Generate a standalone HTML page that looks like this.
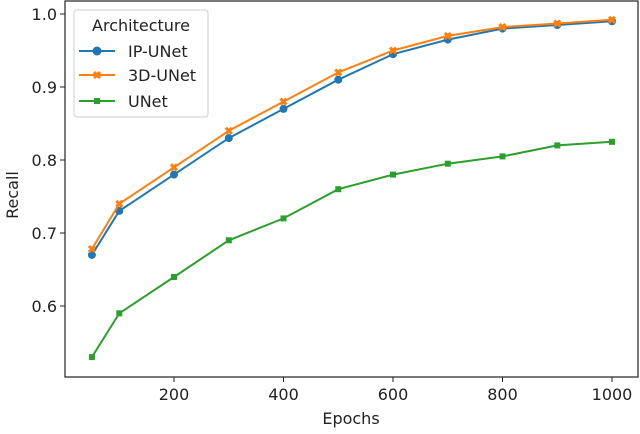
<!DOCTYPE html><html><head><style>body{margin:0;background:#fff}svg text{font-family:"DejaVu Sans","Liberation Sans",sans-serif;fill:#222}</style></head><body>
<svg width="640" height="429" xmlns="http://www.w3.org/2000/svg">
<rect x="65" y="1" width="573" height="376" fill="none" stroke="#222" stroke-width="1.2"/>
<g font-size="16" text-anchor="end">
<text x="57" y="20">1.0</text><text x="57" y="93">0.9</text><text x="57" y="166">0.8</text><text x="57" y="239">0.7</text><text x="57" y="312">0.6</text></g>
<g stroke="#222"><line x1="60" x2="65" y1="14" y2="14"/><line x1="60" x2="65" y1="87" y2="87"/><line x1="60" x2="65" y1="160" y2="160"/><line x1="60" x2="65" y1="233" y2="233"/><line x1="60" x2="65" y1="306" y2="306"/>
<line y1="377" y2="382" x1="174" x2="174"/><line y1="377" y2="382" x1="283.5" x2="283.5"/><line y1="377" y2="382" x1="393" x2="393"/><line y1="377" y2="382" x1="502.5" x2="502.5"/><line y1="377" y2="382" x1="612" x2="612"/></g>
<g font-size="16" text-anchor="middle"><text x="174" y="400">200</text><text x="283.5" y="400">400</text><text x="393" y="400">600</text><text x="502.5" y="400">800</text><text x="612" y="400">1000</text>
<text x="351" y="424">Epochs</text><text transform="translate(18,195) rotate(-90)">Recall</text></g>
<polyline fill="none" stroke="#1f77b4" stroke-width="2" points="91.9,254.9 119.3,210.9 174,174.6 228.8,138.1 283.5,108.9 338.3,79.7 393,54.2 447.8,39.6 502.5,28.6 557.3,25 612,21.3"/>
<g fill="#1f77b4"><circle cx="91.9" cy="254.9" r="4"/><circle cx="119.3" cy="210.9" r="4"/><circle cx="174" cy="174.6" r="4"/><circle cx="228.8" cy="138.1" r="4"/><circle cx="283.5" cy="108.9" r="4"/><circle cx="338.3" cy="79.7" r="4"/><circle cx="393" cy="54.2" r="4"/><circle cx="447.8" cy="39.6" r="4"/><circle cx="502.5" cy="28.6" r="4"/><circle cx="557.3" cy="25" r="4"/><circle cx="612" cy="21.3" r="4"/></g>
<polyline fill="none" stroke="#ff7f0e" stroke-width="2" points="91.9,249 119.3,203.8 174,167.3 228.8,130.8 283.5,101.6 338.3,72.4 393,50.5 447.8,35.9 502.5,27.1 557.3,23.5 612,19.8"/>
<g stroke="#ff7f0e" stroke-width="3"><path d="M88.9,246l6,6M94.9,246l-6,6M116.3,200.8l6,6M122.3,200.8l-6,6M171,164.3l6,6M177,164.3l-6,6M225.8,127.8l6,6M231.8,127.8l-6,6M280.5,98.6l6,6M286.5,98.6l-6,6M335.3,69.4l6,6M341.3,69.4l-6,6M390,47.5l6,6M396,47.5l-6,6M444.8,32.9l6,6M450.8,32.9l-6,6M499.5,24.1l6,6M505.5,24.1l-6,6M554.3,20.5l6,6M560.3,20.5l-6,6M609,16.8l6,6M615,16.8l-6,6"/></g>
<polyline fill="none" stroke="#2ca02c" stroke-width="2" points="91.9,357.1 119.3,313.3 174,277 228.8,240.3 283.5,218.4 338.3,189.2 393,174.6 447.8,163.7 502.5,156.4 557.3,145.4 612,141.8"/>
<g fill="#2ca02c"><rect x="88.9" y="354.1" width="6" height="6"/><rect x="116.3" y="310.3" width="6" height="6"/><rect x="171" y="274" width="6" height="6"/><rect x="225.8" y="237.3" width="6" height="6"/><rect x="280.5" y="215.4" width="6" height="6"/><rect x="335.3" y="186.2" width="6" height="6"/><rect x="390" y="171.6" width="6" height="6"/><rect x="444.8" y="160.7" width="6" height="6"/><rect x="499.5" y="153.4" width="6" height="6"/><rect x="554.3" y="142.4" width="6" height="6"/><rect x="609" y="138.8" width="6" height="6"/></g>
<rect x="74" y="10" width="134" height="107" rx="3" fill="#fff" stroke="#ccc"/>
<text x="141" y="31" font-size="16" text-anchor="middle">Architecture</text>
<line x1="79" x2="115" y1="51" y2="51" stroke="#1f77b4" stroke-width="2"/><circle cx="97" cy="51" r="4.5" fill="#1f77b4"/>
<text x="128" y="57" font-size="16">IP-UNet</text>
<line x1="79" x2="115" y1="75" y2="75" stroke="#ff7f0e" stroke-width="2"/><path d="M94,72l6,6M100,72l-6,6" stroke="#ff7f0e" stroke-width="3"/>
<text x="128" y="81" font-size="16">3D-UNet</text>
<line x1="79" x2="115" y1="101" y2="101" stroke="#2ca02c" stroke-width="2"/><rect x="94" y="98" width="6" height="6" fill="#2ca02c"/>
<text x="128" y="107" font-size="16">UNet</text>
</svg></body></html>
